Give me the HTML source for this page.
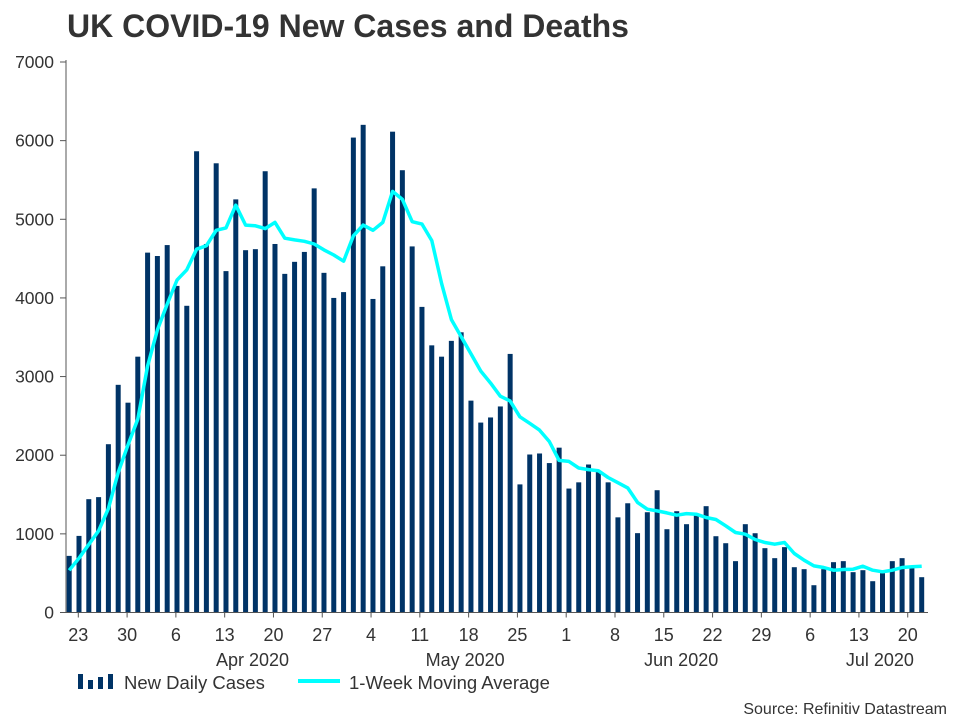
<!DOCTYPE html>
<html><head><meta charset="utf-8"><style>
html,body{margin:0;padding:0;background:#fff;width:960px;height:720px;overflow:hidden}
svg{display:block;font-family:"Liberation Sans",Arial,sans-serif}
</style></head><body>
<svg id="chart" width="960" height="720" viewBox="0 0 960 720" xmlns="http://www.w3.org/2000/svg">
<text x="67" y="37" font-size="32" font-weight="bold" fill="#333">UK COVID-19 New Cases and Deaths</text>
<g id="yaxis"></g>
<g id="bars"></g>
<g id="line"></g>
<g id="xaxis"></g>
<g>
<g>
<rect x="78" y="674" width="5" height="15" fill="#003366"/><rect x="88" y="680" width="5" height="9" fill="#003366"/><rect x="98" y="677" width="5" height="12" fill="#003366"/><rect x="108" y="674" width="5" height="15" fill="#003366"/>
<text x="124" y="689" font-size="18.5" fill="#333">New Daily Cases</text></g>
<g>
<line x1="298" y1="681" x2="340" y2="681" stroke="#00ffff" stroke-width="4"/>
<text x="349" y="689" font-size="18.5" fill="#333">1-Week Moving Average</text></g>
</g>
<text x="947" y="714" font-size="16" fill="#333" text-anchor="end">Source: Refinitiv Datastream</text>
</svg>
<script>
const cases=[720,974,1441,1467,2140,2895,2668,3253,4576,4533,4672,4153,3900,5865,4686,5712,4341,5253,4607,4620,5611,4686,4306,4459,4585,5393,4319,4000,4074,6039,6201,3987,4402,6114,5624,4655,3886,3397,3253,3454,3563,2694,2415,2480,2620,3288,1629,2009,2022,1900,2096,1576,1655,1882,1795,1655,1210,1389,1009,1275,1555,1059,1288,1123,1237,1352,970,881,653,1123,1008,818,691,831,576,551,347,551,640,653,513,538,398,500,653,691,576,449];
const movingAvg=[537,690,865,1039,1323,1782,2131,2459,3135,3594,3921,4227,4358,4620,4664,4860,4891,5179,4926,4917,4882,4961,4760,4738,4720,4686,4611,4546,4467,4790,4926,4860,4961,5354,5253,4969,4939,4729,4183,3725,3507,3288,3070,2917,2751,2690,2489,2406,2319,2175,1934,1921,1838,1817,1803,1716,1651,1585,1400,1314,1292,1267,1237,1258,1250,1208,1182,1102,1017,996,928,890,869,890,750,665,593,572,538,547,551,589,538,517,538,572,581,589];
const yTicks=[0,1000,2000,3000,4000,5000,6000,7000];
const dayTickLabels=["23","30","6","13","20","27","4","11","18","25","1","8","15","22","29","6","13","20"];
const monthLabels=["Apr 2020","May 2020","Jun 2020","Jul 2020"];
const monthLabelDays=[25,55.5,86.5,115];

const NS="http://www.w3.org/2000/svg";
const y0=612.5,yTop=62,yMax=7000;
const yScale=v=>y0-(v/yMax)*(y0-yTop);
const barX0=69.2,barX1=921.7;
const barX=i=>barX0+i*(barX1-barX0)/(cases.length-1);
const dayX=d=>78.3+d*6.97;
function mk(tag,attrs,parent){const e=document.createElementNS(NS,tag);for(const k in attrs)e.setAttribute(k,attrs[k]);parent.appendChild(e);return e;}

const ya=document.getElementById('yaxis');
mk('line',{x1:66,y1:yTop-2,x2:66,y2:y0,stroke:'#555','stroke-width':1},ya);
yTicks.forEach(v=>{
  const t=mk('line',{x1:60,y1:yScale(v),x2:66,y2:yScale(v),stroke:'#555'},ya);
  
  
  const l=mk('text',{x:54,y:yScale(v)+6,'font-size':17.5,fill:'#333','text-anchor':'end'},ya);
  l.textContent=v;
  
  
});

const bg=document.getElementById('bars');
cases.forEach((v,i)=>{
  const r=mk('rect',{x:barX(i)-2.5,y:yScale(v),width:5,height:y0-yScale(v),fill:'#003366'},bg);
  
  
});

const lg=document.getElementById('line');
const p=mk('polyline',{points:movingAvg.map((v,i)=>barX(i).toFixed(1)+','+yScale(v).toFixed(1)).join(' '),fill:'none',stroke:'#00ffff','stroke-width':3.5,'stroke-linejoin':'round'},lg);



const xa=document.getElementById('xaxis');
mk('line',{x1:60,y1:y0,x2:928,y2:y0,stroke:'#555'},xa);
dayTickLabels.forEach((s,k)=>{
  const x=dayX(k*7);
  mk('line',{x1:x,y1:y0,x2:x,y2:y0+5,stroke:'#555'},xa);
  const t=mk('text',{x:x,y:641,'font-size':18,fill:'#333','text-anchor':'middle'},xa);
  t.textContent=s;
  
  
});
monthLabels.forEach((s,k)=>{
  const t=mk('text',{x:dayX(monthLabelDays[k]),y:666,'font-size':18,fill:'#333','text-anchor':'middle'},xa);
  t.textContent=s;
  
  
});
</script>
</body></html>
